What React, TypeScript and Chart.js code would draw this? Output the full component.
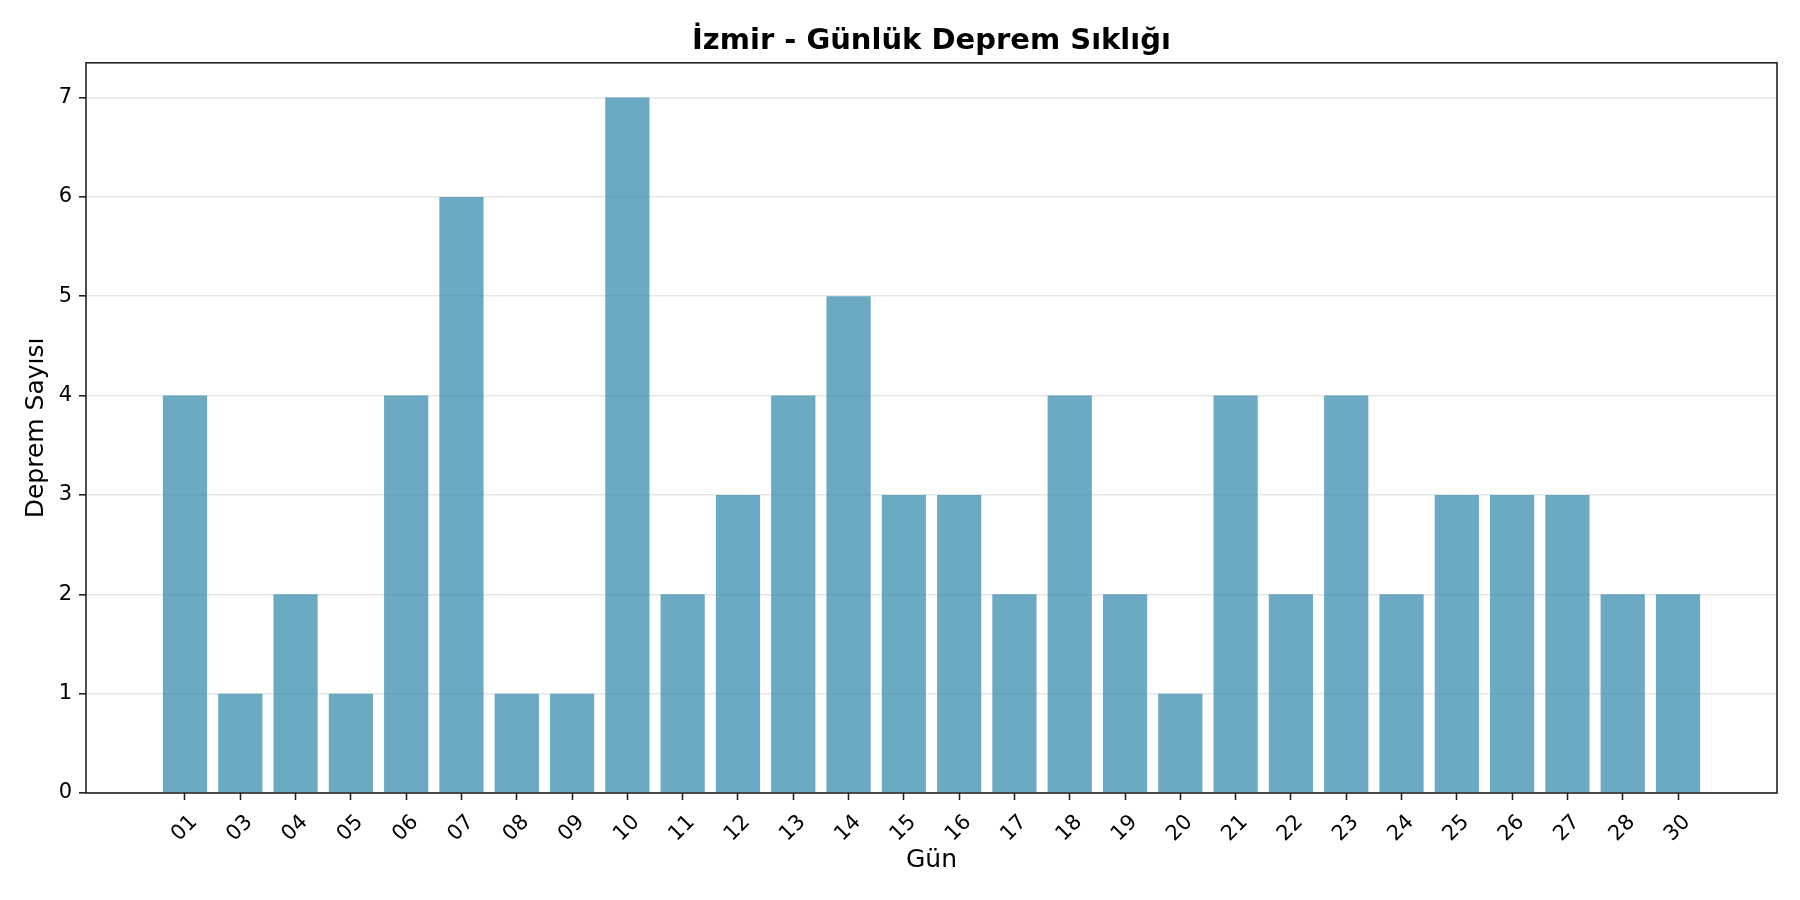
import React, { useEffect, useRef } from "react";
import { Chart, registerables } from "chart.js";

Chart.register(...registerables);

const days = ["01","03","04","05","06","07","08","09","10","11","12","13","14","15","16","17","18","19","20","21","22","23","24","25","26","27","28","30"];
const counts = [4,1,2,1,4,6,1,1,7,2,3,4,5,3,3,2,4,2,1,4,2,4,2,3,3,3,2,2];
const yTicks = [0,1,2,3,4,5,6,7];

const TITLE = "İzmir - Günlük Deprem Sıklığı";
const X_LABEL = "Gün";
const Y_LABEL = "Deprem Sayısı";

const FONT = "'DejaVu Sans', sans-serif";
const SPINE = "#222222";

const boxPlugin = {
  id: "boxPlugin",
  afterDraw(chart: any) {
    const { ctx, chartArea } = chart;
    ctx.save();
    ctx.strokeStyle = SPINE;
    ctx.lineWidth = 1.6;
    ctx.strokeRect(chartArea.left, chartArea.top, chartArea.right - chartArea.left, chartArea.bottom - chartArea.top);
    ctx.restore();
  },
};

export default function App() {
  const ref = useRef<HTMLCanvasElement | null>(null);
  useEffect(() => {
    if (!ref.current) return;
    const n = days.length;
    const chart = new Chart(ref.current, {
      type: "bar",
      data: {
        datasets: [
          {
            data: counts.map((c, i) => ({ x: i, y: c })),
            backgroundColor: "rgba(46,134,171,0.7)",
            borderWidth: 0,
            categoryPercentage: 1,
            barPercentage: 0.8,
          } as any,
        ],
      },
      options: {
        animation: false,
        responsive: false,
        devicePixelRatio: 1,
        layout: { padding: { top: 0, right: 23, bottom: 0, left: 0 } },
        plugins: {
          legend: { display: false },
          tooltip: { enabled: false },
          title: {
            display: true,
            fullSize: false,
            text: TITLE,
            color: "#000",
            font: { family: FONT, size: 29, weight: "bold" },
            padding: { top: 24, bottom: 4 },
          },
        },
        scales: {
          x: {
            type: "linear",
            min: -0.4 - 0.05 * (n - 1 + 0.8),
            max: n - 1 + 0.4 + 0.05 * (n - 1 + 0.8),
            offset: false,
            afterFit: (s: any) => { s.height = 107; },
            afterBuildTicks: (s: any) => { s.ticks = days.map((_, i) => ({ value: i })); },
            grid: { display: true, drawOnChartArea: false, drawTicks: true, tickLength: 7, tickColor: SPINE, tickWidth: 1.6, offset: false },
            border: { display: false },
            ticks: {
              autoSkip: false,
              minRotation: 45,
              maxRotation: 45,
              labelOffset: 9,
              padding: 10,
              color: "#000",
              font: { family: FONT, size: 21 },
              callback: (v: any) => days[v as number],
            },
            title: {
              display: true,
              text: X_LABEL,
              color: "#000",
              font: { family: FONT, size: 25 },
              padding: { top: 0, bottom: 25 },
            },
          },
          y: {
            type: "linear",
            min: 0,
            max: 7.35,
            afterFit: (s: any) => { s.width = 86; },
            afterBuildTicks: (s: any) => { s.ticks = yTicks.map((v) => ({ value: v })); },
            grid: { color: "rgba(176,176,176,0.3)", lineWidth: 1.6, tickLength: 7, tickColor: SPINE, tickWidth: 1.6 },
            border: { display: false },
            ticks: {
              padding: 7,
              color: "#000",
              font: { family: FONT, size: 21 },
              callback: (v: any) => String(v),
            },
            title: {
              display: true,
              text: Y_LABEL,
              color: "#000",
              font: { family: FONT, size: 25 },
              padding: { top: 21, bottom: 0 },
            },
          },
        },
      } as any,
      plugins: [boxPlugin],
    });
    return () => chart.destroy();
  }, []);
  return (
    <div style={{ position: "absolute", left: 0, top: 0, width: 1800, height: 900, background: "#fff" }}>
      <canvas ref={ref} width={1800} height={900} />
    </div>
  );
}
